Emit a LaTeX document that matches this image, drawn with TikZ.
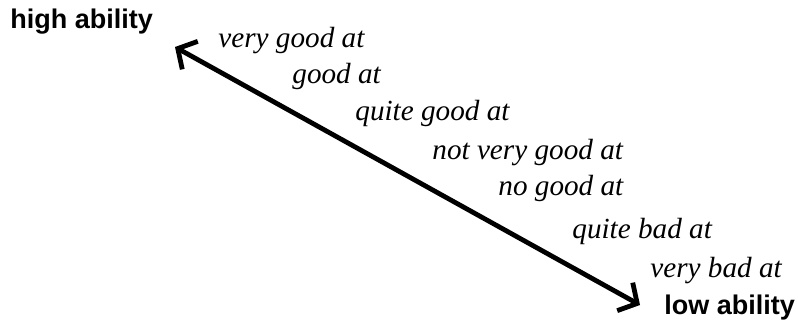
\documentclass[tikz,border=0pt]{standalone}
\usepackage{fontspec}
\setmainfont{Liberation Serif}
\setsansfont{Liberation Sans}
\usepackage{tikz}
\usetikzlibrary{arrows.meta}

\tikzset{
  level/.style={anchor=base west, inner sep=0pt, font=\fontsize{14.6pt}{16pt}\selectfont\itshape},
  ability/.style={anchor=base west, inner sep=0pt, font=\fontsize{13.5pt}{16pt}\selectfont\sffamily\bfseries},
  abilityrange/.style={line width=2.4pt, {Straight Barb[length=7pt,width=16pt]}-{Straight Barb[length=7pt,width=16pt]}}
}

\begin{document}
\begin{tikzpicture}[x=0.5pt, y=-0.5pt]
\useasboundingbox (0,0) rectangle (798,333);
\node[ability] (high) at (10,28) {high ability};
\node[ability] (low) at (664,314) {low ability};
\coordinate (top) at (175,47);
\coordinate (bottom) at (640,305);
\draw[abilityrange] (top) -- (bottom);
\node[level] (vgood) at (218,47) {very good at};
\node[level] (good) at (292,83) {good at};
\node[level] (qgood) at (355,120) {quite good at};
\node[level] (nvgood) at (432,159) {not very good at};
\node[level] (nogood) at (498,195) {no good at};
\node[level] (qbad) at (572,238) {quite bad at};
\node[level] (vbad) at (650,277) {very bad at};
\end{tikzpicture}
\end{document}
